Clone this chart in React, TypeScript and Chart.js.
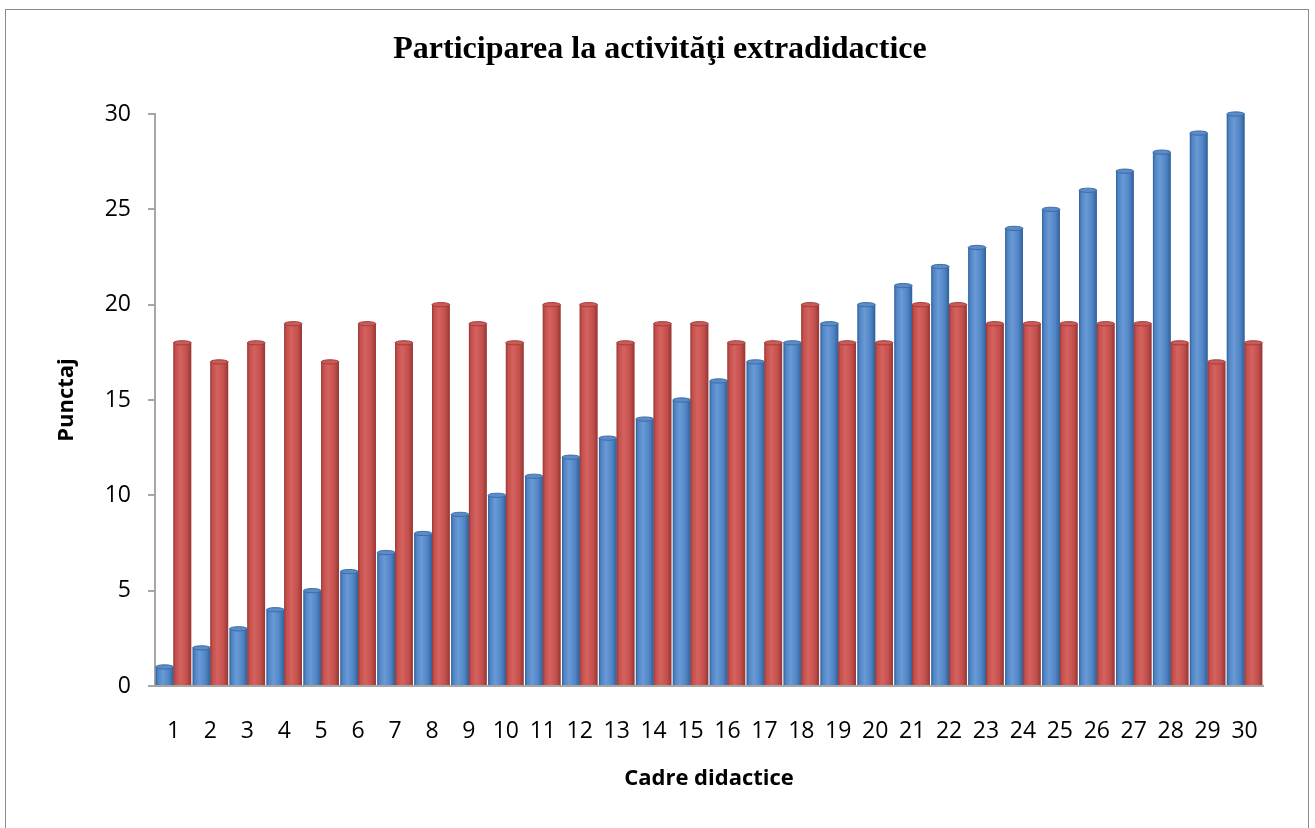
import React, { useEffect, useRef } from "react";
import { Chart, registerables } from "chart.js";

Chart.register(...registerables);

const categories = ["1","2","3","4","5","6","7","8","9","10","11","12","13","14","15","16","17","18","19","20","21","22","23","24","25","26","27","28","29","30"];
const blueValues = [1,2,3,4,5,6,7,8,9,10,11,12,13,14,15,16,17,18,19,20,21,22,23,24,25,26,27,28,29,30];
const redValues = [18,17,18,19,17,19,18,20,19,18,20,20,18,19,19,18,18,20,18,18,20,20,19,19,19,19,19,18,17,18];
const yTickValues = [0,5,10,15,20,25,30];

const chartTitle = "Participarea la activităţi extradidactice";
const xTitle = "Cadre didactice";
const yTitle = "Punctaj";

const blueShades = { base: "#4f81bd", dark: "#30609a", light: "#6a9ad6", mid: "#4f84c4", cap: "#5a8cca", rim: "#3d6ca5" };
const redShades = { base: "#c0504d", dark: "#953734", light: "#d4625f", mid: "#c4504d", cap: "#cc5a57", rim: "#a03f3c" };

const cylinderPlugin = {
  id: "cylinder",
  afterDatasetsDraw(chart: any) {
    const ctx = chart.ctx;
    chart.data.datasets.forEach((ds: any, di: number) => {
      const meta = chart.getDatasetMeta(di);
      const s = di === 0 ? blueShades : redShades;
      meta.data.forEach((el: any) => {
        const { x, y, base, width } = el.getProps(["x", "y", "base", "width"], true);
        const l = x - width / 2;
        const r = x + width / 2;
        const g = ctx.createLinearGradient(l, 0, r, 0);
        g.addColorStop(0, s.dark);
        g.addColorStop(0.12, s.mid);
        g.addColorStop(0.4, s.light);
        g.addColorStop(0.75, s.mid);
        g.addColorStop(1, s.dark);
        ctx.save();
        ctx.fillStyle = g;
        ctx.fillRect(l, y, width, base - y);
        const ry = Math.max(2, width * 0.12);
        ctx.beginPath();
        ctx.ellipse(x, y, width / 2, ry, 0, 0, Math.PI * 2);
        ctx.fillStyle = s.cap;
        ctx.fill();
        ctx.lineWidth = 1;
        ctx.strokeStyle = s.rim;
        ctx.stroke();
        ctx.restore();
      });
    });
  },
};

export default function App() {
  const canvasRef = useRef<HTMLCanvasElement | null>(null);

  useEffect(() => {
    const canvas = canvasRef.current;
    if (!canvas) return;
    const tickFont = { family: "'Open Sans', 'Noto Sans', sans-serif", size: 23 };
    const titleFont = { family: "'Open Sans', 'Noto Sans', sans-serif", size: 22, weight: "bold" as const };
    const chart = new Chart(canvas, {
      type: "bar",
      data: {
        labels: categories,
        datasets: [
          { label: "Serie 1", data: blueValues, backgroundColor: blueShades.base, borderWidth: 0, categoryPercentage: 0.96, barPercentage: 1.0 },
          { label: "Serie 2", data: redValues, backgroundColor: redShades.base, borderWidth: 0, categoryPercentage: 0.96, barPercentage: 1.0 },
        ],
      },
      plugins: [cylinderPlugin],
      options: {
        responsive: false,
        animation: false,
        layout: { padding: { left: 5, right: 0, top: 0, bottom: 0 } },
        plugins: {
          legend: { display: false },
          tooltip: { enabled: false },
          title: {
            display: true,
            text: chartTitle,
            color: "#000",
            font: { family: "'Liberation Serif', 'Times New Roman', serif", size: 32, weight: "bold" },
            padding: { top: 31, bottom: 44.6 },
          },
        },
        scales: {
          x: {
            grid: { display: true, drawOnChartArea: false, drawTicks: false },
            border: { display: true, color: "#a6a6a6", width: 2 },
            ticks: { color: "#000", font: tickFont, padding: 32, maxRotation: 0, autoSkip: false },
            title: { display: true, text: xTitle, color: "#000", font: titleFont, padding: { top: 0, bottom: 36 } },
            afterFit(scale: any) {
              scale.height = 142;
            },
          },
          y: {
            min: 0,
            max: 30,
            afterBuildTicks(scale: any) {
              scale.ticks = yTickValues.map((v) => ({ value: v }));
            },
            grid: { display: true, drawOnChartArea: false, drawTicks: true, tickLength: 7, color: "#a6a6a6", lineWidth: 2 },
            border: { display: true, color: "#a6a6a6", width: 2 },
            ticks: { color: "#000", font: tickFont, padding: 17 },
            title: { display: true, text: yTitle, color: "#000", font: titleFont, padding: { top: 49, bottom: 0 } },
            afterFit(scale: any) {
              scale.width = 150;
            },
          },
          yRightSpace: {
            position: "right",
            display: true,
            grid: { display: false },
            border: { display: false },
            ticks: { display: false },
            afterFit(scale: any) {
              scale.width = 52;
            },
          },
        },
      },
    });
    return () => chart.destroy();
  }, []);

  return (
    <div style={{ position: "fixed", left: 0, top: 0, width: 1315, height: 828, overflow: "hidden", background: "#fff" }}>
      <div
        style={{
          position: "absolute",
          left: 5,
          top: 9,
          width: 1304,
          height: 840,
          border: "1.5px solid #8c8c8c",
          boxSizing: "border-box",
        }}
      />
      <canvas ref={canvasRef} width={1315} height={828} style={{ position: "absolute", left: 0, top: 0 }} />
    </div>
  );
}
